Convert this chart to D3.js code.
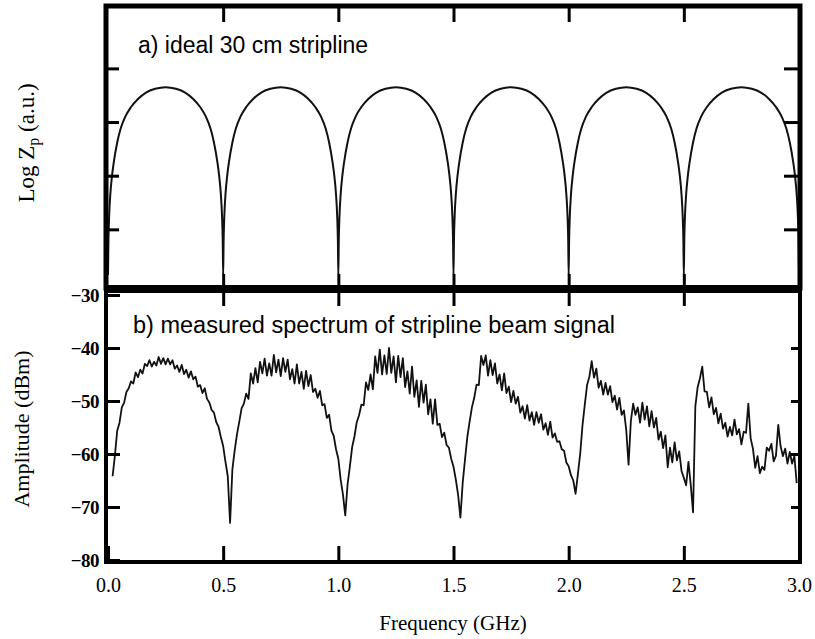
<!DOCTYPE html>
<html>
<head>
<meta charset="utf-8">
<script src="https://cdn.jsdelivr.net/npm/d3@7"></script>
<style>
  body { margin: 0; background: #fff; }
  svg { display: block; }
</style>
</head>
<body>
<div id="chart"></div>
<script>
// ---- data ----
// a) ideal stripline: nulls every 0.5 GHz, one arch profile (fraction of period -> log Zp)
const nullFreqs = [0, 0.5, 1.0, 1.5, 2.0, 2.5];
const archFrac = [0, 0.004, 0.01, 0.02, 0.035, 0.05, 0.08, 0.11, 0.15, 0.2, 0.26, 0.33, 0.41, 0.5,
                  0.59, 0.67, 0.74, 0.8, 0.85, 0.89, 0.92, 0.95, 0.965, 0.98, 0.99, 0.996, 1.0];
const archLogZ = [0.15, 0.8, 1.25, 1.65, 2.0, 2.25, 2.62, 2.88, 3.1, 3.28, 3.43, 3.55, 3.62, 3.65,
                  3.62, 3.55, 3.43, 3.28, 3.1, 2.88, 2.62, 2.25, 2.0, 1.65, 1.25, 0.8, 0.15];

// b) measured spectrum, sweep from 0.02 GHz in 0.01 GHz steps (dBm)
const specStart = 0.02;
const specStep = 0.01;
const specDbm = [
  -64.2, -60.3, -55.6, -54.1, -51.2, -50.3, -48.3, -47.6, -46.3, -46.7,
  -44.6, -45.5, -44.1, -44.8, -43, -43.4, -42.3, -43.5, -42.6, -43.3,
  -41.7, -43, -41.9, -43.1, -42, -43.1, -42.3, -43.9, -43.3, -44.5,
  -43.2, -44.9, -44.1, -45.6, -44.4, -45.9, -45.4, -47.3, -47, -48.5,
  -47.6, -49.6, -50.3, -51.7, -52.2, -54, -54.9, -56.8, -58.5, -61.5,
  -64.2, -73, -62.9, -59.3, -56.3, -53.9, -51.4, -50.5, -48.6, -49.6,
  -44.8, -46.7, -43.8, -46.5, -42.6, -44.8, -42, -45.2, -42.9, -45.2,
  -41.3, -44.6, -42.2, -45.3, -41.9, -44.5, -42.2, -45.9, -44, -46.7,
  -43.1, -46.7, -44.5, -47.7, -44.3, -47.2, -45.1, -48.3, -47.7, -49.4,
  -48.1, -50.8, -50.6, -53.2, -52.6, -55.6, -56.6, -59.1, -60.9, -64.8,
  -67.6, -71.6, -65.8, -62.4, -58.7, -56.7, -54, -52.7, -50.7, -50.8,
  -46.5, -47.9, -45, -47.8, -41.6, -44.7, -40.3, -45, -41.4, -44.9,
  -40, -44.7, -41.6, -46.5, -41.5, -45.5, -41.9, -47.4, -44.4, -48.6,
  -43.5, -49.2, -46.1, -51.1, -46.2, -50.3, -46.9, -52.5, -49.7, -54.3,
  -49.7, -54.5, -54.3, -56.8, -56, -58.3, -58.8, -60.9, -62.4, -64.8,
  -67.7, -72, -65.4, -61, -56.8, -53.9, -51.2, -49.4, -46.9, -47,
  -41.5, -43.2, -41.4, -45.2, -42.3, -45.1, -42.9, -46.7, -45, -48,
  -44.8, -48.5, -47.3, -50.2, -48.1, -50.5, -49.2, -52.2, -51, -53.3,
  -50.8, -53.7, -52.1, -54.5, -52.1, -54.1, -52.5, -55.4, -54.2, -56.4,
  -53.9, -56.9, -56.1, -57.7, -57.6, -59.1, -59.4, -61.6, -62.3, -64,
  -65, -67.5, -63.8, -60, -54.6, -50.7, -47, -45.4, -42.5, -45.6,
  -43.9, -47.5, -46.2, -48.8, -46.6, -48.8, -47.2, -50.2, -49, -51.6,
  -49.4, -52.6, -51.8, -55.5, -62, -53.8, -50.5, -52.6, -51.2, -54.1,
  -50.3, -53.5, -51, -54.8, -51.9, -55, -53.2, -57.3, -55.8, -58.9,
  -56.5, -62.5, -58.8, -61.6, -57.8, -61.2, -59.5, -63.2, -64.5, -65.9,
  -61.5, -65.8, -71, -51, -47.4, -45.7, -43.5, -48.2, -48.3, -51.2,
  -49.3, -52.5, -51.3, -54.2, -52.4, -55.2, -54.1, -56.7, -54.9, -56.5,
  -53.5, -56.3, -55.3, -58.2, -55.8, -56, -50.5, -57, -59, -62.6,
  -60.4, -63.6, -62.4, -63, -58.8, -59.4, -58.1, -61.4, -60.3, -54.5,
  -58.5, -60.4, -59, -61.8, -59.6, -61.8, -60.4, -65.5
];

const freqTicks = [0, 0.5, 1.0, 1.5, 2.0, 2.5, 3.0];
const dbmTicks = [-30, -40, -50, -60, -70, -80];
const logZTicks = [1, 2, 3, 4];

// ---- layout ----
const W = 815, H = 639;
const left = 106, right = 800;
const topA = 6, botA = 288, topB = 290, botB = 562;

const svg = d3.select('#chart').append('svg')
  .attr('width', W)
  .attr('height', H);

const x = d3.scaleLinear().domain([0, 3]).range([108, 799]);
const yA = d3.scaleLinear().domain([0, 5.2]).range([283, 4]);
const yB = d3.scaleLinear().domain([-80, -30]).range([560, 295]);

// build series
const idealPts = [];
nullFreqs.forEach((n, k) => {
  archFrac.forEach((fr, j) => {
    if (k > 0 && j === 0) return;
    idealPts.push({ f: n + fr * 0.5, v: archLogZ[j] });
  });
});
const specPts = specDbm.map((d, i) => ({ f: specStart + i * specStep, v: d }));

// ---- panel a ----
svg.append('path')
  .datum(idealPts)
  .attr('fill', 'none')
  .attr('stroke', '#111')
  .attr('stroke-width', 2)
  .attr('d', d3.line().x(d => x(d.f)).y(d => yA(d.v)).curve(d3.curveMonotoneX));

// ---- panel b ----
svg.append('path')
  .datum(specPts)
  .attr('fill', 'none')
  .attr('stroke', '#111')
  .attr('stroke-width', 1.8)
  .attr('stroke-linejoin', 'round')
  .attr('d', d3.line().x(d => x(d.f)).y(d => yB(d.v)));

// ---- axes (inward ticks) ----
function styleAxis(g, w) {
  g.select('.domain').remove();
  g.selectAll('.tick line').attr('stroke', '#000').attr('stroke-width', w);
}
const innerFreq = freqTicks.slice(1, -1);

// panel a: top, bottom, left, right
svg.append('g').attr('transform', `translate(0,${topA})`)
  .call(d3.axisTop(x).tickValues(innerFreq).tickSizeInner(-16).tickSizeOuter(0).tickFormat(''))
  .call(g => styleAxis(g, 3));
svg.append('g').attr('transform', `translate(0,${botA})`)
  .call(d3.axisBottom(x).tickValues(innerFreq).tickSizeInner(-14).tickSizeOuter(0).tickFormat(''))
  .call(g => styleAxis(g, 3));
svg.append('g').attr('transform', `translate(${left},0)`)
  .call(d3.axisLeft(yA).tickValues(logZTicks).tickSizeInner(-13).tickSizeOuter(0).tickFormat(''))
  .call(g => styleAxis(g, 3));
svg.append('g').attr('transform', `translate(${right},0)`)
  .call(d3.axisRight(yA).tickValues(logZTicks).tickSizeInner(-16).tickSizeOuter(0).tickFormat(''))
  .call(g => styleAxis(g, 3));

// panel b
svg.append('g').attr('transform', `translate(0,${topB})`)
  .call(d3.axisTop(x).tickValues(innerFreq).tickSizeInner(-16).tickSizeOuter(0).tickFormat(''))
  .call(g => styleAxis(g, 3));
const xAxisB = svg.append('g').attr('transform', `translate(0,${botB})`)
  .call(d3.axisBottom(x).tickValues(freqTicks).tickSizeInner(-16).tickSizeOuter(0)
    .tickPadding(16).tickFormat(d3.format('.1f')))
  .call(g => styleAxis(g, 3));
xAxisB.selectAll('text')
  .attr('font-family', '"Liberation Serif", "Times New Roman", serif')
  .attr('font-size', 20)
  .attr('fill', '#000');
const yAxisB = svg.append('g').attr('transform', `translate(${left},0)`)
  .call(d3.axisLeft(yB).tickValues(dbmTicks).tickSizeInner(-14).tickSizeOuter(0)
    .tickPadding(7).tickFormat(d3.format('d')))
  .call(g => styleAxis(g, 3));
yAxisB.selectAll('text')
  .attr('font-family', '"Liberation Serif", "Times New Roman", serif')
  .attr('font-size', 19)
  .attr('font-weight', 'bold')
  .attr('letter-spacing', -0.5)
  .attr('fill', '#000');
svg.append('g').attr('transform', `translate(${right},0)`)
  .call(d3.axisRight(yB).tickValues(dbmTicks.slice(1, -1)).tickSizeInner(-9).tickSizeOuter(0).tickFormat(''))
  .call(g => styleAxis(g, 3));

// ---- frames ----
svg.append('rect')
  .attr('x', left).attr('y', topA)
  .attr('width', right - left).attr('height', botA - topA)
  .attr('fill', 'none').attr('stroke', '#000').attr('stroke-width', 5);
svg.append('rect')
  .attr('x', left).attr('y', topB)
  .attr('width', right - left).attr('height', botB - topB)
  .attr('fill', 'none').attr('stroke', '#000').attr('stroke-width', 4);
svg.append('line')
  .attr('x1', left - 2).attr('x2', right + 2)
  .attr('y1', (botA + topB) / 2).attr('y2', (botA + topB) / 2)
  .attr('stroke', '#000').attr('stroke-width', 8);

// ---- titles inside panels ----
svg.append('text')
  .attr('x', 138).attr('y', 53)
  .attr('font-family', '"Liberation Sans", Arial, sans-serif')
  .attr('font-size', 23)
  .text('a) ideal 30 cm stripline');
svg.append('text')
  .attr('x', 133).attr('y', 333)
  .attr('font-family', '"Liberation Sans", Arial, sans-serif')
  .attr('font-size', 23.5)
  .text('b) measured spectrum of stripline beam signal');

// ---- axis titles ----
const serif = '"Liberation Serif", "Times New Roman", serif';
const tA = svg.append('text')
  .attr('transform', 'translate(34,143) rotate(-90)')
  .attr('text-anchor', 'middle')
  .attr('font-family', serif)
  .attr('font-size', 23);
tA.append('tspan').text('Log Z');
tA.append('tspan').attr('font-size', 16).attr('dy', 5).text('p');
tA.append('tspan').attr('dy', -5).text(' (a.u.)');

svg.append('text')
  .attr('transform', 'translate(29,429) rotate(-90)')
  .attr('text-anchor', 'middle')
  .attr('font-family', serif)
  .attr('font-size', 22)
  .text('Amplitude (dBm)');

svg.append('text')
  .attr('x', 453).attr('y', 630)
  .attr('text-anchor', 'middle')
  .attr('font-family', serif)
  .attr('font-size', 21)
  .text('Frequency (GHz)');
</script>
</body>
</html>
